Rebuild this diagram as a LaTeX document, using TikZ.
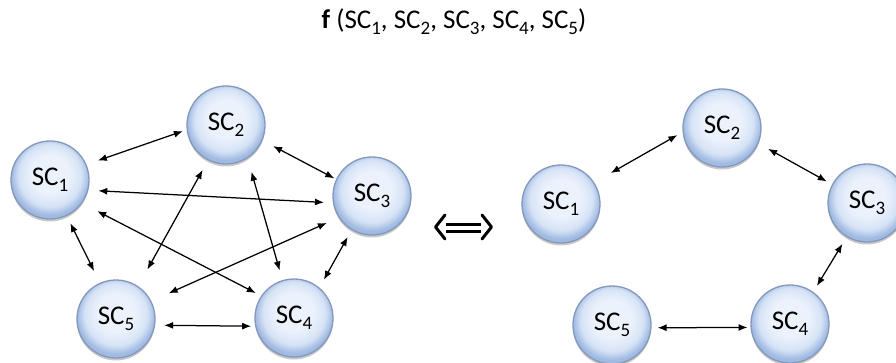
\documentclass[tikz,border=0pt]{standalone}
\usepackage{fontspec}
\setmainfont{Carlito}
\usetikzlibrary{arrows.meta,shadows}
\definecolor{ballin}{RGB}{236,242,252}
\definecolor{ballmid}{RGB}{214,227,246}
\definecolor{ballout}{RGB}{160,186,226}
\definecolor{rim}{RGB}{132,152,188}
\pgfdeclareradialshading{ballshade}{\pgfpoint{0bp}{5bp}}{%
  color(0bp)=(ballin); color(12bp)=(ballin); color(20bp)=(ballmid); color(25bp)=(ballout); color(50bp)=(ballout)}
\newcommand\sx[1]{SC\raisebox{-6pt}{\fontsize{19}{19}\selectfont #1}}
\tikzset{
  ball/.style={circle, minimum size=78pt, inner sep=0pt, draw=rim, line width=1.3pt,
    shading=ballshade,
    drop shadow={opacity=0.35, shadow xshift=0pt, shadow yshift=-2.5pt, fill=black!60},
    font=\fontsize{27}{28}\selectfont},
  link/.style={{Latex[length=9pt,width=7pt]}-{Latex[length=9pt,width=7pt]}, line width=1.25pt, black}
}
\begin{document}
\begin{tikzpicture}[x=1pt,y=-1pt]
\useasboundingbox[fill=white] (0,0) rectangle (896,363);
\node (title) at (454,22) {\fontsize{27}{28}\selectfont\textbf{f} (\sx1, \sx2, \sx3, \sx4, \sx5)};
% left graph
\node[ball] (n1) at (50,180) {\sx1};
\node[ball] (n2) at (226,125) {\sx2};
\node[ball] (n3) at (372,196) {\sx3};
\node[ball] (n4) at (294,318) {\sx4};
\node[ball] (n5) at (116,319) {\sx5};
\draw[link, shorten <=12pt, shorten >=4pt] (n1.23) -- (n2.-173);
\draw[link, shorten <=12pt, shorten >=2pt] (n2.-23) -- (n3.155);
\draw[link, shorten <=10pt, shorten >=9pt] (n1.-15) -- (n3.-170);
\draw[link, shorten <=17pt, shorten >=6pt] (n1.-36) -- (n4.146);
\draw[link, shorten <=8pt, shorten >=13pt] (n1.-65) -- (n5.114);
\draw[link, shorten <=11pt, shorten >=19pt] (n2.-117) -- (n5.56);
\draw[link, shorten <=14pt, shorten >=10pt] (n2.-57) -- (n4.107);
\draw[link, shorten <=13pt, shorten >=19pt] (n3.-147) -- (n5.27);
\draw[link, shorten <=8pt, shorten >=9pt] (n3.-121) -- (n4.50);
\draw[link, shorten <=9pt, shorten >=4pt] (n5.-9) -- (n4.-168);
% equivalence sign
\draw[line width=3pt, line cap=round, line join=round] (445,215) -- (435.5,227) -- (445,239);
\draw[line width=3pt, line cap=round, line join=round] (482,215) -- (491.5,227) -- (482,239);
\draw[line width=3.2pt] (446,224.5) -- (481,224.5);
\draw[line width=3.2pt] (446,231.5) -- (481,231.5);
% right graph
\node[ball] (m1) at (561,204) {\sx1};
\node[ball] (m2) at (722,128) {\sx2};
\node[ball] (m3) at (867,203) {\sx3};
\node[ball] (m4) at (790,324) {\sx4};
\node[ball] (m5) at (612,325) {\sx5};
\draw[link, shorten <=19pt, shorten >=6pt] (m1.33) -- (m2.-174);
\draw[link, shorten <=11pt, shorten >=6pt] (m2.-23) -- (m3.152);
\draw[link, shorten <=8pt, shorten >=7pt] (m3.-121) -- (m4.54);
\draw[link, shorten <=6pt, shorten >=3pt] (m5.-4) -- (m4.-175);
\end{tikzpicture}
\end{document}
